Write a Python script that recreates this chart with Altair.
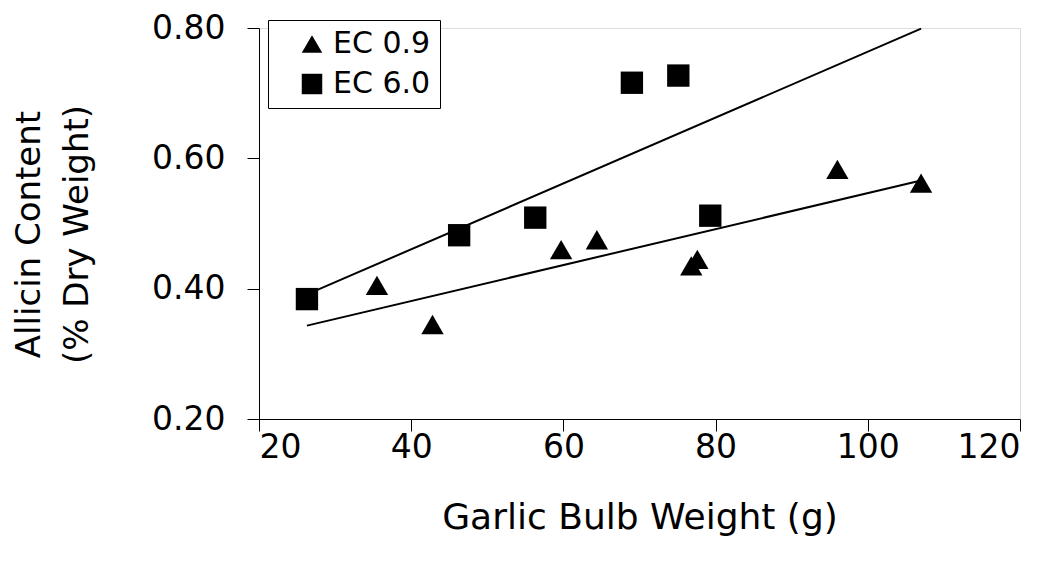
import altair as alt
import pandas as pd

# EC 0.9 (triangles)
ec09_weight = [35.5, 42.8, 59.7, 64.4, 76.8, 77.6, 96.0, 107.0]
ec09_allicin = [0.405, 0.345, 0.460, 0.475, 0.435, 0.445, 0.583, 0.562]
# EC 6.0 (squares)
ec60_weight = [26.3, 46.3, 56.3, 69.0, 75.1, 79.3]
ec60_allicin = [0.384, 0.482, 0.509, 0.716, 0.727, 0.512]

series_names = ["EC 0.9", "EC 6.0"]
x_ticks = [20, 40, 60, 80, 100, 120]
y_ticks = [0.2, 0.4, 0.6, 0.8]

df = pd.DataFrame({
    "weight": ec09_weight + ec60_weight,
    "allicin": ec09_allicin + ec60_allicin,
    "series": [series_names[0]] * len(ec09_weight) + [series_names[1]] * len(ec60_weight),
})
extent = [min(df["weight"]), max(df["weight"])]

FONT = "DejaVu Sans"

x_enc = alt.X("weight:Q", title="Garlic Bulb Weight (g)",
              scale=alt.Scale(domain=[20, 120], nice=False, zero=False),
              axis=alt.Axis(values=x_ticks, format="d", grid=False, domainColor="black",
                            tickColor="black", tickSize=12, labelFontSize=33, labelColor="black",
                            labelPadding=0, titleFontSize=36, titleFontWeight="normal",
                            titleColor="black", titlePadding=36, labelFont=FONT, titleFont=FONT))
y_enc = alt.Y("allicin:Q", title=["Allicin Content", "(% Dry Weight)"],
              scale=alt.Scale(domain=[0.2, 0.8], nice=False, zero=False),
              axis=alt.Axis(values=y_ticks, format=".2f", grid=False, domainColor="black",
                            tickColor="black", tickSize=12, labelFontSize=33, labelColor="black",
                            labelPadding=22, titleFontSize=34, titleFontWeight="normal",
                            titleColor="black", labelFont=FONT, titleFont=FONT,
                            titleLineHeight=48, titleAngle=270, titleAlign="center",
                            titleBaseline="alphabetic", titleX=-220, titleY=206))

points = alt.Chart(df).mark_point(filled=True, opacity=1, color="black", size=500).encode(
    x=x_enc,
    y=y_enc,
    shape=alt.Shape("series:N",
                    scale=alt.Scale(domain=series_names, range=["triangle-up", "square"]),
                    legend=alt.Legend(title=None, orient="none", legendX=9, legendY=-8,
                                      strokeColor="black", fillColor="white", padding=9,
                                      labelFontSize=30, labelFont=FONT, labelColor="black",
                                      symbolSize=420, symbolFillColor="black",
                                      symbolStrokeColor="black", rowPadding=10,
                                      labelOffset=6, symbolOffset=20)),
)

lines = alt.Chart(df).transform_regression(
    "weight", "allicin", groupby=["series"], extent=extent
).mark_line(color="black", strokeWidth=2).encode(
    x="weight:Q", y="allicin:Q", detail="series:N"
)

chart = alt.layer(lines, points).properties(
    width=761, height=391,
    autosize=alt.AutoSizeParams(type="none"),
    padding={"left": 251, "top": 20, "right": 35, "bottom": 140},
).configure_view(stroke=None).configure(background="white")

chart.save("out.html", embed_options={"renderer": "svg", "actions": False})
